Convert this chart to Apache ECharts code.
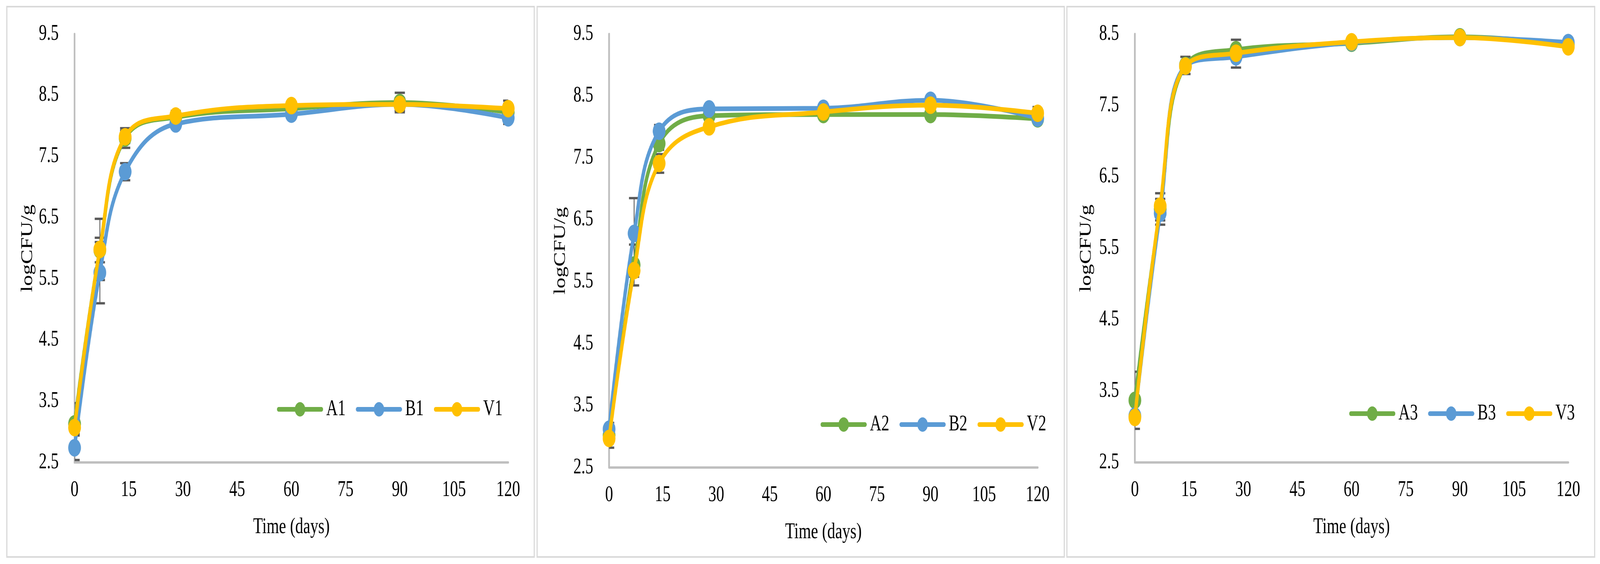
<!DOCTYPE html>
<html>
<head>
<meta charset="utf-8">
<script src="https://cdn.jsdelivr.net/npm/echarts@6/dist/echarts.min.js"></script>
<style>
html,body{margin:0;padding:0;background:#fff;overflow:hidden;}
#c{width:5645px;height:1444px;transform-origin:0 0;}
</style>
</head>
<body>
<div id="c"></div>
<script>
const days = [0, 7, 14, 28, 60, 90, 120];

const A1 = [3.13, 5.97, 7.80, 8.14, 8.28, 8.38, 8.22];
const B1 = [2.74, 5.60, 7.25, 8.03, 8.19, 8.35, 8.13];
const V1 = [3.07, 5.98, 7.82, 8.16, 8.33, 8.35, 8.28];
const A1err = [0.34, 0.20, 0.16, 0.10, 0.06, 0.16, 0.19];
const B1err = [0.20, 0.50, 0.14, 0.06, 0.05, 0.10, 0.05];
const V1err = [0.10, 0.50, 0.10, 0.08, 0.05, 0.10, 0.08];

const A2 = [3.02, 5.77, 7.73, 8.18, 8.20, 8.20, 8.13];
const B2 = [3.12, 6.28, 7.93, 8.29, 8.30, 8.43, 8.14];
const V2 = [2.97, 5.68, 7.41, 8.00, 8.24, 8.35, 8.22];
const A2err = [0.10, 0.33, 0.10, 0.05, 0.05, 0.05, 0.05];
const B2err = [0.10, 0.57, 0.10, 0.05, 0.05, 0.05, 0.05];
const V2err = [0.15, 0.10, 0.15, 0.05, 0.05, 0.05, 0.10];

const A3 = [3.37, 6.05, 8.06, 8.28, 8.37, 8.46, 8.35];
const B3 = [3.15, 5.99, 8.05, 8.18, 8.38, 8.45, 8.38];
const V3 = [3.13, 6.09, 8.05, 8.23, 8.39, 8.45, 8.32];
const A3err = [0.40, 0.22, 0.12, 0.14, 0.06, 0.03, 0.05];
const B3err = [0.05, 0.10, 0.05, 0.15, 0.05, 0.03, 0.05];
const V3err = [0.05, 0.10, 0.05, 0.05, 0.05, 0.03, 0.05];

const yRanges = [[2.5, 9.5], [2.5, 9.5], [2.5, 8.5]];
const panelNames = [['A1','B1','V1'], ['A2','B2','V2'], ['A3','B3','V3']];
const panelValues = [[A1,B1,V1],[A2,B2,V2],[A3,B3,V3]];
const panelErrors = [[A1err,B1err,V1err],[A2err,B2err,V2err],[A3err,B3err,V3err]];
const colors = ['#70AD47', '#5B9BD5', '#FFC000'];
const xTitle = 'Time (days)';
const yTitle = 'logCFU/g';

// chart is laid out at the reference size and fitted to the viewport
const REF_W = 5645, REF_H = 1444;
const W = window.innerWidth || REF_W, H = window.innerHeight || REF_H;
document.getElementById('c').style.transform = 'scale(' + (W / REF_W) + ',' + (H / REF_H) + ')';

const grids = [
  {left: 263, top: 87, width: 1530, height: 1097},
  {left: 2149, top: 87, width: 1512, height: 1110},
  {left: 4004, top: 87, width: 1529, height: 1097}
];
const frames = [[24, 17, 1861, 1409], [1895, 17, 1860, 1409], [3764, 17, 1862, 1409]];
const legendPos = [{left: 977, top: 1020}, {left: 2895, top: 1059}, {left: 4760, top: 1031}];
const yNameGap = [137, 143, 143];

const FONT = 'Liberation Serif';
const FS = 56;

const chart = echarts.init(document.getElementById('c'), null, {width: REF_W, height: REF_H});

function renderErr(params, api) {
  const x = api.value(0), lo = api.value(1), hi = api.value(2);
  const pLo = api.coord([x, lo]), pHi = api.coord([x, hi]);
  const hw = 18;
  const st = {stroke: '#595959', lineWidth: 6};
  return {type: 'group', children: [
    {type: 'line', shape: {x1: pLo[0], y1: pLo[1], x2: pHi[0], y2: pHi[1]}, style: {stroke: '#595959', lineWidth: 3}},
    {type: 'line', shape: {x1: pLo[0]-hw, y1: pLo[1], x2: pLo[0]+hw, y2: pLo[1]}, style: st},
    {type: 'line', shape: {x1: pHi[0]-hw, y1: pHi[1], x2: pHi[0]+hw, y2: pHi[1]}, style: st}
  ]};
}

// legend icon: thick bar with a round marker in the middle (viewbox 163 x 37)
const legendIcon = 'path://M6,12.5 L64,12.5 L64,24.5 L6,24.5 A6,6 0 0,1 6,12.5 Z ' +
  'M99,12.5 L157,12.5 A6,6 0 0,1 157,24.5 L99,24.5 Z ' +
  'M63,18.5 A18.5,18.5 0 1,1 100,18.5 A18.5,18.5 0 1,1 63,18.5 Z';

const xAxis = [], yAxis = [], series = [], legend = [], grid = [];
for (let p = 0; p < 3; p++) {
  grid.push(grids[p]);
  xAxis.push({
    type: 'value', gridIndex: p, min: 0, max: 120, interval: 15,
    axisLine: {show: true, lineStyle: {color: '#BFBFBF', width: 6}},
    axisTick: {show: false}, splitLine: {show: false},
    axisLabel: {color: '#000', fontFamily: FONT, fontSize: FS, margin: 43},
    name: xTitle, nameLocation: 'middle', nameGap: 138,
    nameTextStyle: {color: '#000', fontFamily: FONT, fontSize: FS}
  });
  yAxis.push({
    type: 'value', gridIndex: p, min: yRanges[p][0], max: yRanges[p][1], interval: 0.5,
    axisLine: {show: true, lineStyle: {color: '#BFBFBF', width: 6}},
    axisTick: {show: false}, splitLine: {show: false},
    axisLabel: {color: '#000', fontFamily: FONT, fontSize: FS, margin: 56,
      formatter: v => (Math.round(v * 2) % 2 === 1) ? v.toFixed(1) : ''},
    name: yTitle, nameLocation: 'middle', nameGap: yNameGap[p],
    nameTextStyle: {color: '#000', fontFamily: FONT, fontSize: FS}
  });
  for (let s = 0; s < 3; s++) {
    const vals = panelValues[p][s], errs = panelErrors[p][s];
    series.push({
      type: 'custom', name: panelNames[p][s] + ' err', xAxisIndex: p, yAxisIndex: p,
      renderItem: renderErr, clip: true, z: 1, silent: true,
      data: days.map((d, i) => [d, vals[i] - errs[i], vals[i] + errs[i]])
    });
  }
  for (let s = 0; s < 3; s++) {
    const vals = panelValues[p][s];
    series.push({
      type: 'line', name: panelNames[p][s], xAxisIndex: p, yAxisIndex: p,
      data: days.map((d, i) => [d, vals[i]]),
      smooth: 0.4, symbol: 'circle', symbolSize: 45, z: 2 + s,
      lineStyle: {color: colors[s], width: 12},
      itemStyle: {color: colors[s]},
      animation: false
    });
  }
  legend.push({
    data: panelNames[p].map(n => ({name: n, icon: legendIcon})),
    left: legendPos[p].left, top: legendPos[p].top, padding: 0,
    orient: 'horizontal', itemWidth: 163, itemHeight: 37, itemGap: 36,
    textStyle: {color: '#000', fontFamily: FONT, fontSize: FS, lineHeight: 56, padding: [0, 0, 0, 6]},
    selectedMode: false
  });
}

const graphic = frames.map(f => ({
  type: 'rect', shape: {x: f[0], y: f[1], width: f[2], height: f[3]},
  style: {fill: 'none', stroke: '#D9D9D9', lineWidth: 4}, z: -1, silent: true
}));

chart.setOption({
  backgroundColor: '#fff', animation: false,
  grid, xAxis, yAxis, series, legend, graphic
});
</script>
</body>
</html>
